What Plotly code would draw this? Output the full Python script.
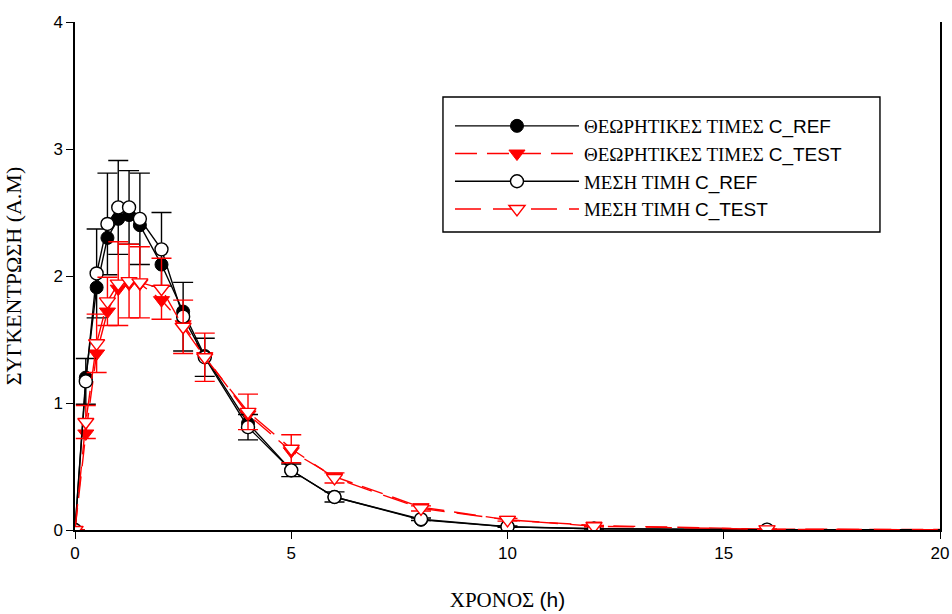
import plotly.graph_objects as go

time = [0, 0.25, 0.5, 0.75, 1, 1.25, 1.5, 2, 2.5, 3, 4, 5, 6, 8, 10, 12, 16, 24]

theo_ref = [0, 1.20, 1.91, 2.30, 2.45, 2.48, 2.40, 2.09, 1.72, 1.37, 0.84, 0.47, 0.26, 0.08, 0.025, 0.01, 0.002, 0.0]
theo_test = [0, 0.76, 1.39, 1.72, 1.90, 1.94, 1.94, 1.81, 1.62, 1.37, 0.91, 0.62, 0.42, 0.18, 0.08, 0.035, 0.007, 0.0]
mean_ref = [0, 1.17, 2.02, 2.41, 2.54, 2.54, 2.45, 2.21, 1.68, 1.36, 0.81, 0.47, 0.26, 0.085, 0.026, 0.01, 0.003, 0.0]
sd_ref = [0, 0.18, 0.35, 0.40, 0.37, 0.29, 0.36, 0.29, 0.27, 0.15, 0.10, 0.05, 0.04, 0.01, 0.005, 0.002, 0.001, 0]
mean_test = [0, 0.85, 1.47, 1.80, 1.94, 1.96, 1.95, 1.90, 1.60, 1.36, 0.93, 0.64, 0.41, 0.17, 0.08, 0.03, 0.005, 0.0]
sd_test = [0, 0.13, 0.23, 0.19, 0.33, 0.29, 0.28, 0.24, 0.21, 0.19, 0.14, 0.11, 0.04, 0.02, 0.01, 0.005, 0.002, 0]

labels = ["ΘΕΩΡΗΤΙΚΕΣ ΤΙΜΕΣ", "ΘΕΩΡΗΤΙΚΕΣ ΤΙΜΕΣ", "ΜΕΣΗ ΤΙΜΗ", "ΜΕΣΗ ΤΙΜΗ"]
suffix = ["C_REF", "C_TEST", "C_REF", "C_TEST"]

SANS = "Liberation Sans"
SERIF = "Liberation Serif"

def sans(t):
    return f"<span style=\"font-family:Arial, '{SANS}', sans-serif\">{t}</span>"

def lab(i):
    return f"{labels[i]} {sans(suffix[i])}"

fig = go.Figure()
fig.add_trace(go.Scatter(
    x=time, y=theo_ref, name=lab(0), mode="lines+markers", legendgroup="a",
    line=dict(color="black", width=1.4),
    marker=dict(symbol="circle", size=13, color="black", line=dict(color="black", width=1)),
))
fig.add_trace(go.Scatter(
    x=time, y=theo_test, name=lab(1), mode="lines+markers", legendgroup="b",
    line=dict(color="red", width=1.4, dash="22px,10px"),
    marker=dict(symbol="triangle-down", size=14, color="red", line=dict(color="red", width=1)),
))
fig.add_trace(go.Scatter(
    x=time, y=mean_ref, name=lab(2), mode="lines+markers", legendgroup="c",
    line=dict(color="black", width=1.4),
    marker=dict(symbol="circle", size=13, color="white", line=dict(color="black", width=1.4)),
    error_y=dict(type="data", array=sd_ref, color="black", thickness=1.4, width=10),
))
fig.add_trace(go.Scatter(
    x=time, y=mean_test, name=lab(3), mode="lines+markers", legendgroup="d",
    line=dict(color="red", width=1.4, dash="26px,12px"),
    marker=dict(symbol="triangle-down", size=14, color="white", line=dict(color="red", width=1.4)),
    error_y=dict(type="data", array=sd_test, color="red", thickness=1.4, width=10),
))

# legend frame
fig.add_shape(type="rect", xref="paper", yref="paper",
              x0=0.4254, x1=0.9306, y0=0.5866, y1=0.8524,
              line=dict(color="black", width=1.4), fillcolor="white", layer="below")

fig.update_layout(
    width=952, height=614,
    margin=dict(l=75, r=12, t=22, b=84, autoexpand=False),
    paper_bgcolor="white", plot_bgcolor="white",
    showlegend=True,
    legend=dict(
        x=0.4335, y=0.8327, xanchor="left", yanchor="top",
        bgcolor="rgba(0,0,0,0)", borderwidth=0,
        font=dict(family=SERIF, size=19, color="black"),
        itemwidth=124, tracegroupgap=0,
        itemclick=False,
    ),
    xaxis=dict(
        range=[0, 20], tickvals=[0, 5, 10, 15, 20], ticks="outside", ticklen=7,
        tickwidth=1.2, tickcolor="black", showgrid=False, zeroline=False,
        showline=True, linecolor="black", linewidth=1.5, automargin=False,
        tickfont=dict(family=SANS, size=17, color="black"),
        title=dict(text=f"ΧΡΟΝΟΣ {sans('(h)')}",
                   font=dict(family=SERIF, size=21, color="black"), standoff=30),
    ),
    yaxis=dict(
        range=[0, 4], tickvals=[0, 1, 2, 3, 4], ticks="outside", ticklen=7,
        tickwidth=1.2, tickcolor="black", showgrid=False, zeroline=False,
        showline=True, linecolor="black", linewidth=1.5, mirror=True, automargin=False,
        tickfont=dict(family=SANS, size=17, color="black"),
        title=dict(text="ΣΥΓΚΕΝΤΡΩΣΗ (Α.Μ)", font=dict(family=SERIF, size=22, color="black"), standoff=26),
    ),
)

fig.write_html("out.html")
